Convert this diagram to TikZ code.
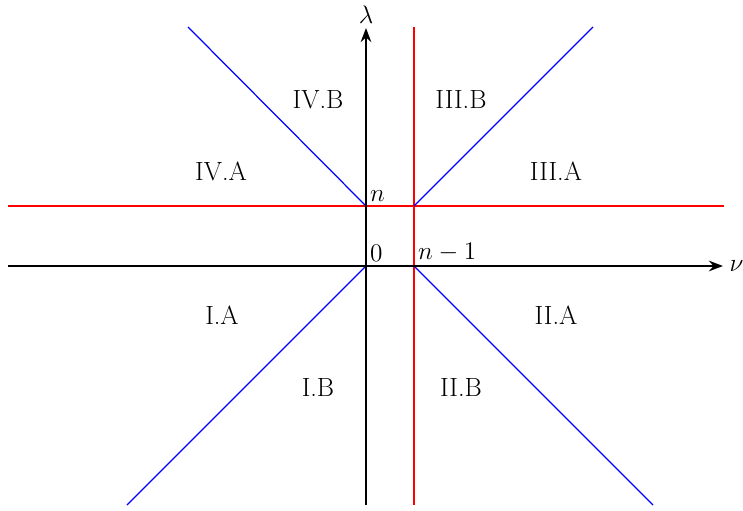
\documentclass[tikz,border=0pt]{standalone}
\usetikzlibrary{arrows.meta}
\begin{document}
\begin{tikzpicture}[x=0.02cm,y=0.02cm,line width=0.7pt,font=\fontsize{15}{18}\selectfont]
    \useasboundingbox (-366,-244) rectangle (377,266);
    % region lines
    \draw[red] (48,-239) -- (48,239);
    \draw[red] (-358,60) -- (358,60);
    \draw[blue] (0,0) -- (-239,-239);
    \draw[blue] (48,0) -- (287,-239);
    \draw[blue] (0,60) -- (-178,239);
    \draw[blue] (48,60) -- (227,239);
    % axes
    \draw[line width=1.5pt,-{Stealth[length=8pt]}] (-358,0) -- (357,0) node[right,inner sep=3pt] {$\nu$};
    \draw[line width=1.5pt,-{Stealth[length=8pt]}] (0,-239) -- (0,238) node[above,inner sep=2pt] {$\lambda$};
    \node[above right,inner sep=2pt] at (0,0) {$0$};
    \node[above right,inner sep=2pt] at (48,0) {$n-1$};
    \node[above right,inner sep=2pt] at (0,60) {$n$};
    % regions
    \node at (-48,166) {IV.B};
    \node at (95,166) {III.B};
    \node at (-145,95) {IV.A};
    \node at (190,95) {III.A};
    \node at (-144,-49) {I.A};
    \node at (190,-49) {II.A};
    \node at (-48,-121) {I.B};
    \node at (95,-121) {II.B};
  \end{tikzpicture}
\end{document}
